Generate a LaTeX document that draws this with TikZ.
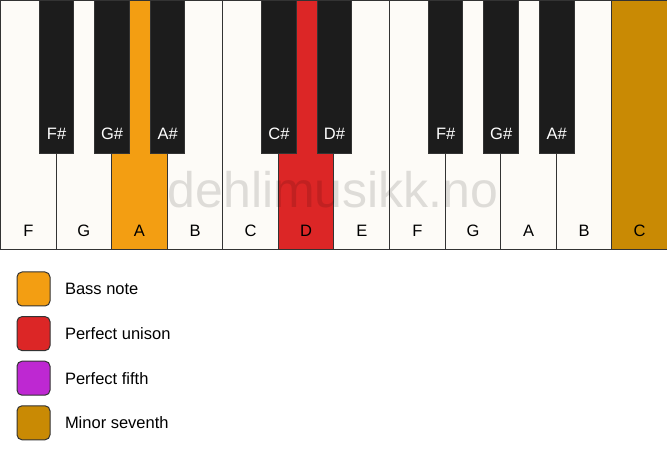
\documentclass[tikz,border=0pt]{standalone}
\usepackage{fontspec}
\setmainfont{Liberation Sans}
\usetikzlibrary{positioning}
\definecolor{ivory}{RGB}{253,251,247}
\definecolor{ebony}{RGB}{28,28,28}
\definecolor{keyline}{RGB}{51,51,51}
\definecolor{bassnote}{RGB}{243,158,18}
\definecolor{unison}{RGB}{220,38,38}
\definecolor{fifth}{RGB}{190,40,210}
\definecolor{seventh}{RGB}{201,138,4}

\begin{document}
\begin{tikzpicture}[x=1pt,y=1pt,node distance=55.58pt,line width=1pt,
		font=\fontsize{16.5}{18}\selectfont]
		\tikzstyle{whitekey}=[draw=keyline,fill=ivory,inner sep=0pt,minimum width=55.58pt,
			text height=236pt,text depth=13.5pt]
		\tikzstyle{blackkey}=[draw=keyline,fill=ebony,text=white,inner sep=0pt,anchor=north,
			minimum width=34.5pt,text height=139pt,text depth=14pt]
		\tikzstyle{swatch}=[draw=keyline,rounded corners=5pt,minimum width=33pt,minimum height=34pt]
		\tikzstyle{legendtext}=[inner sep=0pt,text height=11.8pt,text depth=0pt]

		\fill[white] (0,0) rectangle (667,461);
		\useasboundingbox (0,0) rectangle (667,461);

		\node[whitekey]                  (w1) at (0,461) [anchor=north west] {F};
		\node[whitekey]                  (w2) [right of=w1]  {G};
		\node[whitekey, fill=bassnote]   (w3) [right of=w2]  {A};
		\node[whitekey]                  (w4) [right of=w3]  {B};
		\node[whitekey]                  (w5) [right of=w4]  {C};
		\node[whitekey, fill=unison]     (w6) [right of=w5]  {D};
		\node[whitekey]                  (w7) [right of=w6]  {E};
		\node[whitekey]                  (w8) [right of=w7]  {F};
		\node[whitekey]                  (w9) [right of=w8]  {G};
		\node[whitekey]                  (w10) [right of=w9] {A};
		\node[whitekey]                  (w11) [right of=w10] {B};
		\node[whitekey, fill=seventh]    (w12) [right of=w11] {C};

		\node[blackkey] (b1) at (w1.north east)  {F\#};
		\node[blackkey] (b2) at (w2.north east)  {G\#};
		\node[blackkey] (b3) at (w3.north east)  {A\#};
		\node[blackkey] (b4) at (w5.north east)  {C\#};
		\node[blackkey] (b5) at (w6.north east)  {D\#};
		\node[blackkey] (b6) at (w8.north east)  {F\#};
		\node[blackkey] (b7) at (w9.north east)  {G\#};
		\node[blackkey] (b8) at (w10.north east) {A\#};

		\node[text=black, text opacity=0.12, inner sep=0pt, anchor=base,
			font=\fontsize{50}{52}\selectfont] (mark) at (333,253) {dehlimusikk.no};

		\node[swatch, fill=bassnote] (s1) at (33.5,172) {};
		\node[swatch, fill=unison]   (s2) [below of=s1, node distance=44.6pt] {};
		\node[swatch, fill=fifth]    (s3) [below of=s2, node distance=44.6pt] {};
		\node[swatch, fill=seventh]  (s4) [below of=s3, node distance=44.6pt] {};

		\node[legendtext] (t1) [right=14pt of s1] {Bass note};
		\node[legendtext] (t2) [right=14pt of s2] {Perfect unison};
		\node[legendtext] (t3) [right=14pt of s3] {Perfect fifth};
		\node[legendtext] (t4) [right=14pt of s4] {Minor seventh};
		\end{tikzpicture}
\end{document}
